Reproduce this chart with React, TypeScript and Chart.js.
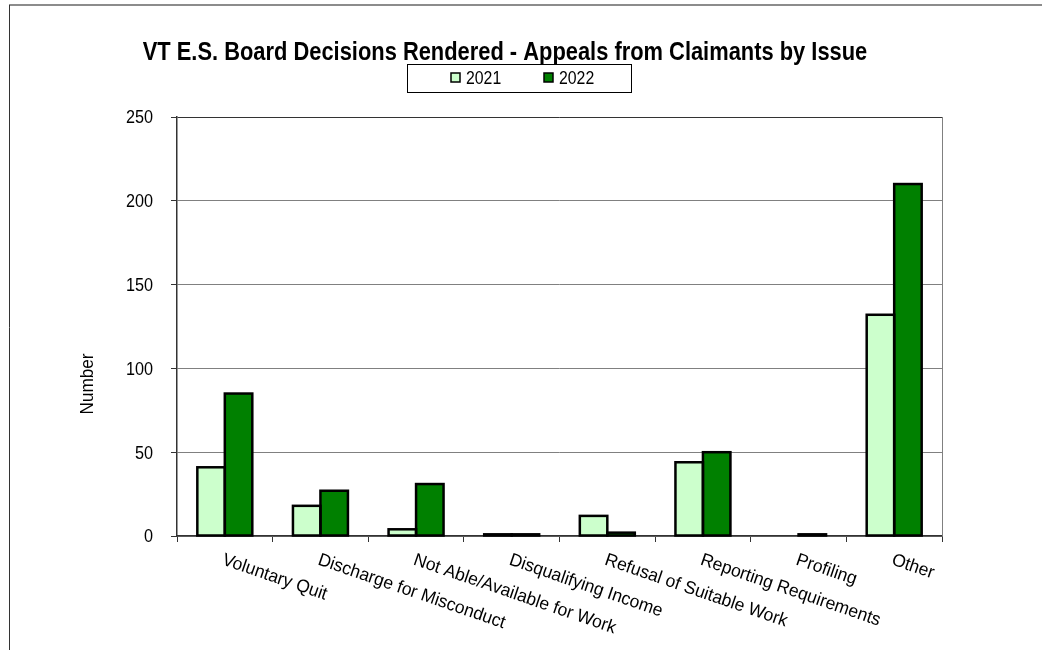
import React, { useEffect, useRef } from "react";
import { Chart, registerables } from "chart.js";

Chart.register(...registerables);

const categories = [
  "Voluntary Quit",
  "Discharge for Misconduct",
  "Not Able/Available for Work",
  "Disqualifying Income",
  "Refusal of Suitable Work",
  "Reporting Requirements",
  "Profiling",
  "Other",
];
const seriesLabels = ["2021", "2022"];
const values2021 = [41, 18, 4, 1, 12, 44, 0, 132];
const values2022 = [85, 27, 31, 1, 2, 50, 1, 210];
const seriesColors = ["#CCFFCC", "#008000"];
const yTicks = [0, 50, 100, 150, 200, 250];
const titleText = "VT E.S. Board Decisions Rendered - Appeals from Claimants by Issue";
const yAxisTitle = "Number";

const FONT = '"Liberation Sans", Arial, sans-serif';

function drawText(
  ctx: CanvasRenderingContext2D,
  text: string,
  x: number,
  y: number,
  size: number,
  align: CanvasTextAlign,
  baseline: CanvasTextBaseline,
  sx: number,
  rot = 0,
  bold = false
) {
  ctx.save();
  ctx.translate(x, y);
  if (rot) ctx.rotate(rot);
  ctx.scale(sx, 1);
  ctx.font = `${bold ? "bold " : ""}${size}px ${FONT}`;
  ctx.fillStyle = "#000";
  ctx.textAlign = align;
  ctx.textBaseline = baseline;
  ctx.fillText(text, 0, 0);
  ctx.restore();
}

const decorPlugin = {
  id: "decor",
  beforeDraw(chart: any) {
    const ctx = chart.ctx;
    ctx.save();
    ctx.fillStyle = "#ffffff";
    ctx.fillRect(0, 0, chart.width, chart.height);
    ctx.strokeStyle = "#8c8c8c";
    ctx.lineWidth = 2;
    ctx.beginPath();
    ctx.moveTo(9, 5);
    ctx.lineTo(chart.width, 5);
    ctx.stroke();
    ctx.strokeStyle = "#333333";
    ctx.lineWidth = 1;
    ctx.beginPath();
    ctx.moveTo(9.5, 5);
    ctx.lineTo(9.5, chart.height);
    ctx.stroke();
    ctx.restore();
  },
  afterDatasetsDraw(chart: any) {
    const ctx = chart.ctx;
    ctx.save();
    ctx.strokeStyle = "#000";
    ctx.lineWidth = 2.5;
    ctx.lineJoin = "miter";
    chart.data.datasets.forEach((ds: any, di: number) => {
      const meta = chart.getDatasetMeta(di);
      meta.data.forEach((el: any, i: number) => {
        if (!ds.data[i]) return;
        const p = el.getProps(["x", "y", "base", "width"], true);
        const left = p.x - p.width / 2;
        const top = Math.min(p.y, p.base);
        const h = Math.abs(p.base - p.y);
        ctx.strokeRect(left, top, p.width, h);
      });
    });
    ctx.restore();
  },
  afterDraw(chart: any) {
    const ctx = chart.ctx;
    const area = chart.chartArea;
    const xScale = chart.scales.x;
    const yScale = chart.scales.y;
    ctx.save();
    // right edge of plot area
    ctx.strokeStyle = "#808080";
    ctx.lineWidth = 1;
    const rx = Math.round(area.right) + 0.5;
    ctx.beginPath();
    ctx.moveTo(rx, area.top);
    ctx.lineTo(rx, area.bottom);
    ctx.stroke();

    // title
    drawText(ctx, titleText, 505, 60, 25, "center", "alphabetic", 0.875, 0, true);

    // y tick labels
    yTicks.forEach((v) => {
      const py = yScale.getPixelForValue(v);
      drawText(ctx, String(v), 153, py + 6.4, 18, "right", "alphabetic", 0.9);
    });

    // category labels, slanted downward
    (chart.data.labels as string[]).forEach((lab, i) => {
      const x = xScale.getPixelForTick(i);
      drawText(ctx, lab, x + 1, area.bottom + 15, 18, "left", "top", 0.97, (19 * Math.PI) / 180);
    });

    // y-axis title
    drawText(ctx, yAxisTitle, 88, 384, 19, "center", "middle", 0.9, -Math.PI / 2);

    // legend box
    ctx.strokeStyle = "#000";
    ctx.lineWidth = 1;
    ctx.strokeRect(407.5, 64.5, 224, 28);
    chart.data.datasets.forEach((ds: any, i: number) => {
      const mx = 451 + i * 93;
      ctx.fillStyle = ds.backgroundColor;
      ctx.fillRect(mx, 73, 9, 9);
      ctx.lineWidth = 1.5;
      ctx.strokeStyle = "#000";
      ctx.strokeRect(mx, 73, 9, 9);
      drawText(ctx, ds.label, mx + 15, 84, 18, "left", "alphabetic", 0.88);
    });
    ctx.restore();
  },
};

export default function App() {
  const ref = useRef<HTMLCanvasElement>(null);
  useEffect(() => {
    const chart = new Chart(ref.current as HTMLCanvasElement, {
      type: "bar",
      data: {
        labels: categories,
        datasets: [
          {
            label: seriesLabels[0],
            data: values2021,
            backgroundColor: seriesColors[0],
            borderWidth: 0,
            categoryPercentage: 0.575,
            barPercentage: 1,
          },
          {
            label: seriesLabels[1],
            data: values2022,
            backgroundColor: seriesColors[1],
            borderWidth: 0,
            categoryPercentage: 0.575,
            barPercentage: 1,
          },
        ],
      },
      options: {
        responsive: false,
        animation: false,
        devicePixelRatio: 1,
        layout: { padding: { left: 0, right: 100, top: 117, bottom: 94 } },
        plugins: {
          legend: { display: false },
          tooltip: { enabled: false },
          title: { display: false },
        },
        scales: {
          x: {
            ticks: { display: false },
            grid: {
              offset: true,
              drawOnChartArea: false,
              color: "#333",
              tickLength: 6,
            },
            border: { color: "#333", width: 1.5 },
            afterFit: (s: any) => {
              s.height = 20;
            },
          },
          y: {
            min: 0,
            max: 250,
            afterBuildTicks: (s: any) => {
              s.ticks = yTicks.map((v) => ({ value: v }));
            },
            ticks: { display: false },
            grid: {
              color: (c: any) => (c.tick && c.tick.value === 250 ? "#333" : "#808080"),
              tickColor: "#333",
              tickLength: 6,
              lineWidth: 1,
            },
            border: { color: "#333", width: 1.5 },
            afterFit: (s: any) => {
              s.width = 177;
            },
          },
        },
      },
      plugins: [decorPlugin],
    });
    return () => chart.destroy();
  }, []);
  return (
    <div style={{ position: "absolute", left: 0, top: 0, width: 1042, height: 650, background: "#fff" }}>
      <canvas ref={ref} width={1042} height={650} style={{ display: "block", width: 1042, height: 650 }} />
    </div>
  );
}
